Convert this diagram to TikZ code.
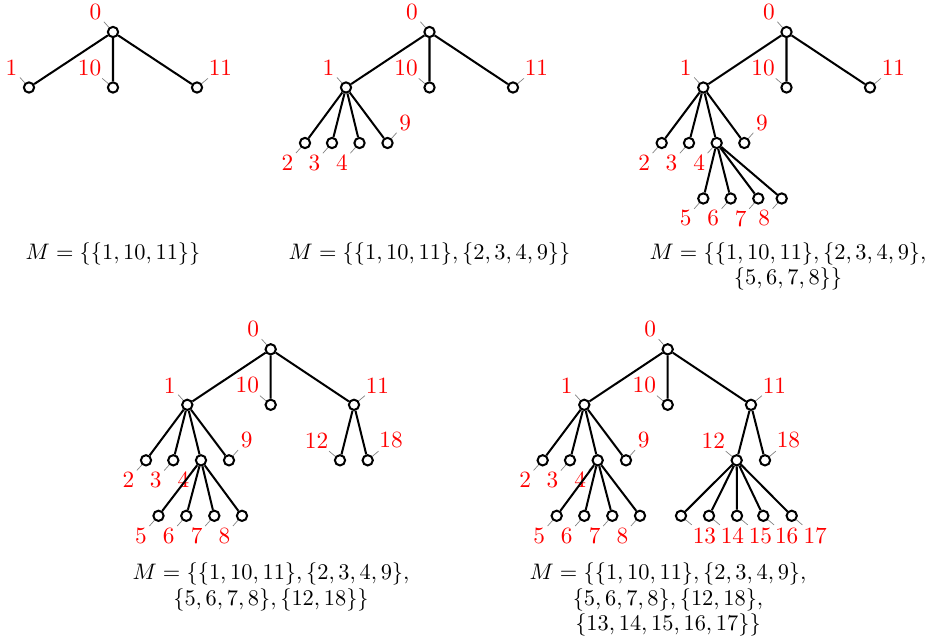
\documentclass[tikz,border=0pt]{standalone}
\begin{document}
\begin{tikzpicture}[x=0.4464pt,y=-0.4464pt,
  vtx/.style={circle,draw,line width=0.9pt,minimum size=4.6pt,inner sep=0pt,fill=white},
  every pin/.style={text=red,inner sep=1pt,font=\fontsize{10.4}{12}\selectfont},
  every pin edge/.style={draw=gray,line width=0.3pt},
  pin distance=3pt,
  tedge/.style={line width=0.9pt},
  formula/.style={align=center,font=\fontsize{10}{11.3}\selectfont,anchor=base,inner sep=0pt}]
\useasboundingbox (0,0) rectangle (932,641);
% ---------- panel 1
\node[vtx,pin=north west:0] (a0) at (113,32) {};
\node[vtx,pin=north west:1] (a1) at (29,87.5) {};
\node[vtx,pin=north west:10] (a10) at (113,87.5) {};
\node[vtx,pin=north east:11] (a11) at (197,87.5) {};
\draw[tedge] (a0) -- (a1) (a0) -- (a10) (a0) -- (a11);
\node[formula] (fa) at (113,260) {$M=\{\{1,10,11\}\}$};
% ---------- panel 2
\node[vtx,pin=north west:0] (b0) at (429.5,32) {};
\node[vtx,pin=north west:1] (b1) at (346,87.5) {};
\node[vtx,pin=north west:10] (b10) at (429.5,87.5) {};
\node[vtx,pin=north east:11] (b11) at (513,87.5) {};
\node[vtx,pin=south west:2] (b2) at (305,143) {};
\node[vtx,pin=south west:3] (b3) at (332,143) {};
\node[vtx,pin=south west:4] (b4) at (359.5,143) {};
\node[vtx,pin=north east:9] (b9) at (387.5,143) {};
\draw[tedge] (b0) -- (b1) (b0) -- (b10) (b0) -- (b11)
  (b1) -- (b2) (b1) -- (b3) (b1) -- (b4) (b1) -- (b9);
\node[formula] (fb) at (429.5,260) {$M=\{\{1,10,11\},\{2,3,4,9\}\}$};
% ---------- panel 3
\node[vtx,pin=north west:0] (c0) at (786.5,32) {};
\node[vtx,pin=north west:1] (c1) at (703.3,87.5) {};
\node[vtx,pin=north west:10] (c10) at (786.5,87.5) {};
\node[vtx,pin=north east:11] (c11) at (870,87.5) {};
\node[vtx,pin=south west:2] (c2) at (661.7,143) {};
\node[vtx,pin=south west:3] (c3) at (689,143) {};
\node[vtx,pin=south west:4] (c4) at (716.7,143) {};
\node[vtx,pin=north east:9] (c9) at (744.3,143) {};
\node[vtx,pin=south west:5] (c5) at (703.3,198.5) {};
\node[vtx,pin=south west:6] (c6) at (730.7,198.5) {};
\node[vtx,pin=south west:7] (c7) at (758.3,198.5) {};
\node[vtx,pin=south west:8] (c8) at (781.7,198.5) {};
\draw[tedge] (c0) -- (c1) (c0) -- (c10) (c0) -- (c11)
  (c1) -- (c2) (c1) -- (c3) (c1) -- (c4) (c1) -- (c9)
  (c4) -- (c5) (c4) -- (c6) (c4) -- (c7) (c4) -- (c8);
\node[formula] (fc) at (788,285) {$M=\{\{1,10,11\},\{2,3,4,9\},$\\$\{5,6,7,8\}\}$};
% ---------- panel 4
\node[vtx,pin=north west:0] (d0) at (270.7,349.3) {};
\node[vtx,pin=north west:1] (d1) at (187.3,404.8) {};
\node[vtx,pin=north west:10] (d10) at (270.7,404.8) {};
\node[vtx,pin=north east:11] (d11) at (354,404.8) {};
\node[vtx,pin=south west:2] (d2) at (146,460.3) {};
\node[vtx,pin=south west:3] (d3) at (173.3,460.3) {};
\node[vtx,pin=south west:4] (d4) at (201,460.3) {};
\node[vtx,pin=north east:9] (d9) at (229,460.3) {};
\node[vtx,pin=north west:12] (d12) at (340,460.3) {};
\node[vtx,pin=north east:18] (d18) at (367.7,460.3) {};
\node[vtx,pin=south west:5] (d5) at (158.5,515.8) {};
\node[vtx,pin=south west:6] (d6) at (186.3,515.8) {};
\node[vtx,pin=south west:7] (d7) at (214.3,515.8) {};
\node[vtx,pin=south west:8] (d8) at (242,515.8) {};
\draw[tedge] (d0) -- (d1) (d0) -- (d10) (d0) -- (d11)
  (d1) -- (d2) (d1) -- (d3) (d1) -- (d4) (d1) -- (d9)
  (d4) -- (d5) (d4) -- (d6) (d4) -- (d7) (d4) -- (d8)
  (d11) -- (d12) (d11) -- (d18);
\node[formula] (fd) at (271,605) {$M=\{\{1,10,11\},\{2,3,4,9\},$\\$\{5,6,7,8\},\{12,18\}\}$};
% ---------- panel 5
\node[vtx,pin=north west:0] (e0) at (667.7,349.3) {};
\node[vtx,pin=north west:1] (e1) at (584.3,404.8) {};
\node[vtx,pin=north west:10] (e10) at (667.7,404.8) {};
\node[vtx,pin=north east:11] (e11) at (751,404.8) {};
\node[vtx,pin=south west:2] (e2) at (542.7,460.3) {};
\node[vtx,pin=south west:3] (e3) at (570,460.3) {};
\node[vtx,pin=south west:4] (e4) at (597.7,460.3) {};
\node[vtx,pin=north east:9] (e9) at (626,460.3) {};
\node[vtx,pin=north west:12] (e12) at (736.7,460.3) {};
\node[vtx,pin=north east:18] (e18) at (765,460.3) {};
\node[vtx,pin=south west:5] (e5) at (556.7,515.8) {};
\node[vtx,pin=south west:6] (e6) at (584.3,515.8) {};
\node[vtx,pin=south west:7] (e7) at (612.3,515.8) {};
\node[vtx,pin=south west:8] (e8) at (640,515.8) {};
\node[vtx,pin=south east:13] (e13) at (681,515.8) {};
\node[vtx,pin=south east:14] (e14) at (709,515.8) {};
\node[vtx,pin=south east:15] (e15) at (737,515.8) {};
\node[vtx,pin=south east:16] (e16) at (763.3,515.8) {};
\node[vtx,pin=south east:17] (e17) at (791.7,515.8) {};
\draw[tedge] (e0) -- (e1) (e0) -- (e10) (e0) -- (e11)
  (e1) -- (e2) (e1) -- (e3) (e1) -- (e4) (e1) -- (e9)
  (e4) -- (e5) (e4) -- (e6) (e4) -- (e7) (e4) -- (e8)
  (e11) -- (e12) (e11) -- (e18)
  (e12) -- (e13) (e12) -- (e14) (e12) -- (e15) (e12) -- (e16) (e12) -- (e17);
\node[formula] (fe) at (668,630.5) {$M=\{\{1,10,11\},\{2,3,4,9\},$\\$\{5,6,7,8\},\{12,18\},$\\$\{13,14,15,16,17\}\}$};
\end{tikzpicture}
\end{document}
